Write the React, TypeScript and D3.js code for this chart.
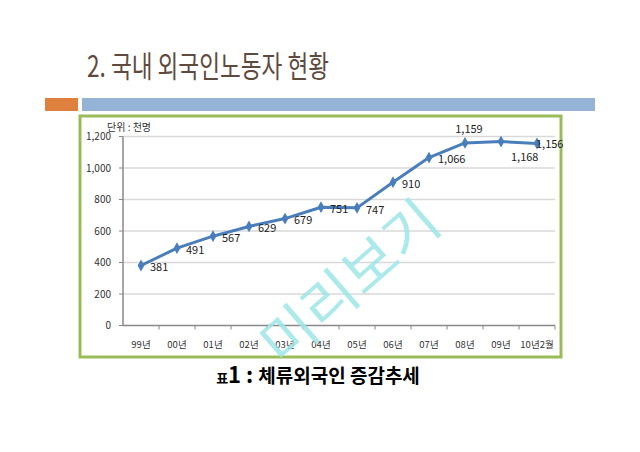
import React from "react";
import * as d3 from "d3";

const categories = ["99년", "00년", "01년", "02년", "03년", "04년", "05년", "06년", "07년", "08년", "09년", "10년2월"];
const values = [381, 491, 567, 629, 679, 751, 747, 910, 1066, 1159, 1168, 1156];
const valueLabels = ["381", "491", "567", "629", "679", "751", "747", "910", "1,066", "1,159", "1,168", "1,156"];
const labelPlacement = ["right", "right", "right", "right", "right", "right", "right", "right", "right", "above", "belowRight", "onRight"];
const yTicks = [0, 200, 400, 600, 800, 1000, 1200];

const FONT = "'Noto Sans CJK KR', 'DejaVu Sans', sans-serif";

export default function App() {
  const W = 640, H = 452;
  const x = d3.scaleBand<string>().domain(categories).range([123, 555]);
  const y = d3.scaleLinear().domain([0, 1200]).range([325.5, 136.5]);
  const cx = (c: string) => (x(c) ?? 0) + x.bandwidth() / 2;
  const line = d3.line<number>().x((_, i) => cx(categories[i])).y((v) => y(v));
  const fmt = d3.format(",");
  const diamond = d3.symbol().type(d3.symbolDiamond).size(40)() as string;

  const labelPos = (p: string, px: number, py: number) => {
    if (p === "above") return { x: px + 4, y: py - 14, anchor: "middle" };
    if (p === "belowRight") return { x: px + 10, y: py + 16, anchor: "start" };
    if (p === "onRight") return { x: px - 1, y: py + 1, anchor: "start" };
    return { x: px + 9, y: py + 2, anchor: "start" };
  };

  return (
    <svg width={W} height={H} style={{ position: "absolute", left: 0, top: 0, background: "#fff" }} fontFamily={FONT}>
      <rect x={0} y={0} width={W} height={H} fill="#fff" />
      <text x={87} y={77} fontSize={30} fill="#604a3e" fontFamily={FONT} textLength={242} lengthAdjust="spacingAndGlyphs">2. 국내 외국인노동자 현황</text>
      <rect x={45} y={98} width={33} height={13} fill="#e0803f" />
      <rect x={82} y={98} width={513} height={13} fill="#95b3d7" />
      <rect x={80} y={116} width={481} height={241} fill="#fff" stroke="#9bbb59" strokeWidth={3} />

      <text x={107} y={131} fontSize={10} fill="#333">단위 : 천명</text>

      {yTicks.map((t) => (
        <g key={t}>
          {t > 0 && <line x1={123} x2={555} y1={y(t)} y2={y(t)} stroke="#d9d9d9" strokeWidth={1.5} />}
          <line x1={119} x2={123} y1={y(t)} y2={y(t)} stroke="#888" strokeWidth={1} />
          <text x={111} y={y(t)} dy="0.35em" textAnchor="end" fontSize={10} fill="#333">{fmt(t)}</text>
        </g>
      ))}
      <line x1={123} x2={123} y1={y(1200)} y2={y(0)} stroke="#888" strokeWidth={1.5} />
      <line x1={123} x2={555} y1={y(0)} y2={y(0)} stroke="#888" strokeWidth={1.5} />
      {categories.map((c) => (
        <line key={"t" + c} x1={(x(c) ?? 0) + x.bandwidth()} x2={(x(c) ?? 0) + x.bandwidth()} y1={y(0)} y2={y(0) + 4} stroke="#888" strokeWidth={1} />
      ))}
      {categories.map((c) => (
        <text key={"l" + c} x={cx(c)} y={345} dy="0.35em" textAnchor="middle" fontSize={9.5} fill="#333">{c}</text>
      ))}

      <path d={line(values) ?? ""} fill="none" stroke="#4a7ebb" strokeWidth={3} strokeLinejoin="round" />
      {values.map((v, i) => (
        <path key={"m" + i} d={diamond} transform={`translate(${cx(categories[i])},${y(v)})`} fill="#4a7ebb" />
      ))}
      {values.map((v, i) => {
        const p = labelPos(labelPlacement[i], cx(categories[i]), y(v));
        return (
          <text key={"v" + i} x={p.x} y={p.y} dy="0.35em" textAnchor={p.anchor} fontSize={11} fill="#222">{valueLabels[i]}</text>
        );
      })}

      <text x={318} y={383} textAnchor="middle" fontWeight="bold" fill="#000" fontFamily={FONT}>
        <tspan fontSize={13}>표</tspan>
        <tspan fontSize={22}>1 : </tspan>
        <tspan fontSize={19}>체류외국인 증감추세</tspan>
      </text>

      <text x={0} y={0} transform="translate(282,368) rotate(-41)" fontSize={56} fill="#9ee6e8" opacity={0.85} fontFamily={FONT} textLength={215} lengthAdjust="spacingAndGlyphs">미리보기</text>
    </svg>
  );
}
